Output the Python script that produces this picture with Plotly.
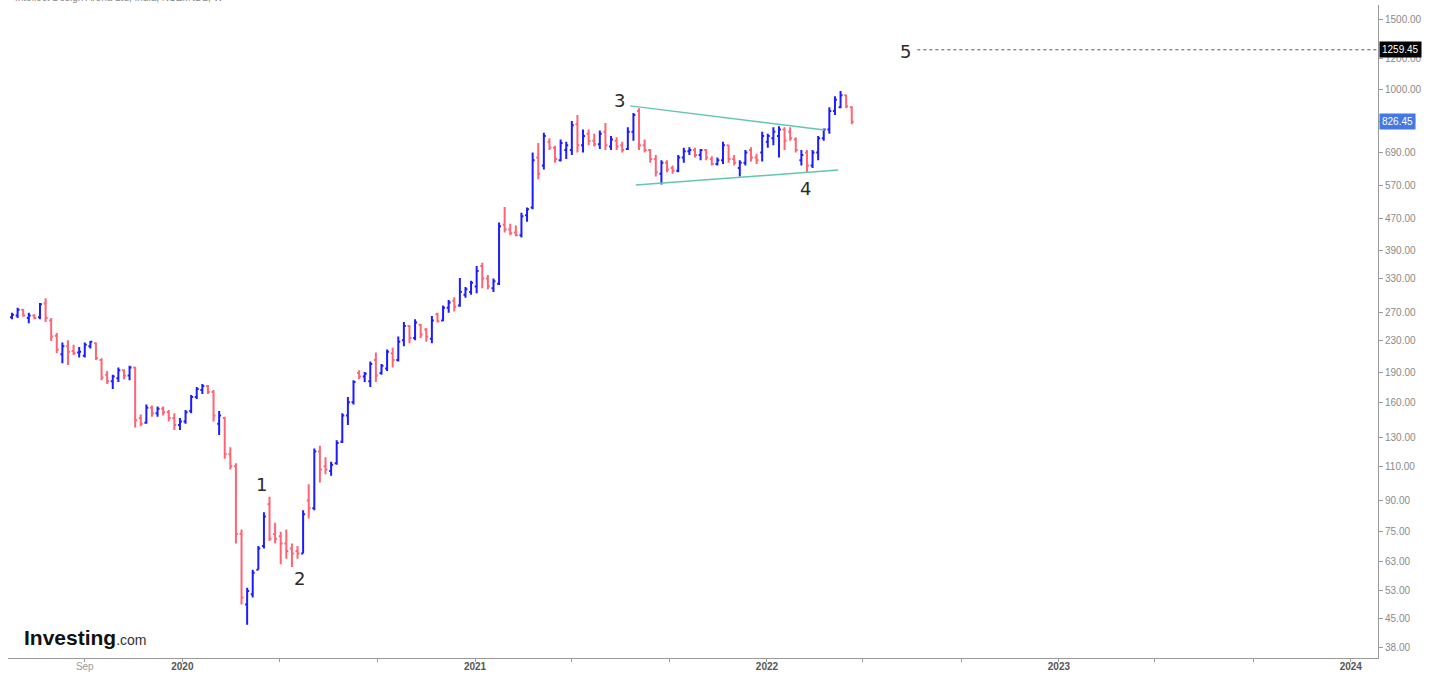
import math
import pandas as pd
import plotly.graph_objects as go

# ---------------- data ----------------
dates = pd.date_range("2019-06-02", periods=151, freq="7D")

opens = [263, 266, 275, 262, 266, 263, 285, 258, 236, 212,
         222, 216, 214, 210, 222, 226, 205, 188, 181, 184,
         193, 187, 196, 146, 142, 155, 150, 154, 151, 146,
         140, 143, 152, 165, 172, 176, 170, 141, 146, 118,
         110, 74, 49, 52, 60, 69, 88, 74, 73, 70,
         68, 67, 66, 90, 86, 120, 110, 107, 112, 127,
         148, 160, 190, 186, 181, 205, 190, 195, 213, 205,
         230, 250, 233, 252, 245, 232, 268, 258, 278, 290,
         282, 300, 305, 315, 355, 330, 312, 320, 452, 440,
         432, 425, 478, 500, 670, 640, 735, 710, 660, 700,
         700, 815, 720, 770, 740, 725, 780, 715, 740, 720,
         705, 780, 880, 720, 700, 665, 610, 650, 630, 620,
         670, 695, 700, 680, 700, 665, 645, 660, 720, 665,
         630, 650, 700, 670, 690, 735, 750, 760, 790, 780,
         745, 660, 690, 640, 690, 750, 790, 880, 900, 965,
         900]
highs = [270, 278, 276, 270, 268, 286, 294, 262, 240, 227,
         230, 224, 221, 227, 229, 227, 207, 192, 188, 196,
         194, 198, 197, 149, 158, 157, 156, 156, 153, 150,
         146, 153, 167, 175, 178, 177, 172, 152, 147, 123,
         112, 76, 54, 60, 69, 84, 92, 79, 75, 76,
         70, 69, 85, 99, 122, 124, 116, 113, 128, 150,
         165, 182, 193, 191, 203, 214, 200, 218, 220, 235,
         256, 251, 260, 253, 247, 265, 270, 282, 291, 296,
         331, 314, 326, 355, 362, 337, 330, 458, 502, 455,
         450, 485, 500, 690, 730, 775, 750, 718, 745, 735,
         830, 860, 790, 790, 770, 785, 820, 760, 755, 735,
         800, 870, 895, 745, 705, 680, 660, 660, 640, 680,
         710, 712, 710, 705, 705, 675, 670, 735, 722, 680,
         660, 700, 712, 685, 780, 770, 800, 805, 800, 800,
         755, 700, 700, 700, 760, 795, 900, 960, 990, 968,
         905]
lows = [260, 262, 264, 254, 260, 260, 256, 229, 213, 201,
        199, 211, 208, 208, 219, 205, 182, 178, 173, 180,
        183, 182, 138, 139, 141, 147, 147, 148, 143, 136,
        136, 141, 150, 163, 168, 168, 143, 132, 115, 108,
        70, 49, 43.5, 51, 60, 68, 71, 70, 62, 64,
        61, 64, 66, 81, 85, 100, 105, 104, 111, 126,
        140, 158, 183, 180, 175, 180, 188, 192, 196, 203,
        222, 226, 230, 233, 228, 226, 255, 257, 270, 272,
        280, 295, 300, 303, 312, 310, 305, 318, 432, 425,
        423, 420, 460, 495, 590, 625, 700, 650, 655, 665,
        680, 690, 690, 720, 715, 705, 700, 700, 700, 690,
        700, 740, 700, 690, 650, 600, 572, 615, 610, 615,
        650, 680, 670, 660, 660, 640, 640, 645, 650, 640,
        600, 640, 655, 645, 655, 710, 720, 670, 700, 740,
        690, 640, 615, 630, 660, 740, 770, 860, 895, 895,
        815]
closes = [267, 275, 266, 266, 262, 284, 262, 235, 218, 222,
          215, 213, 215, 224, 228, 207, 185, 181, 186, 193,
          187, 196, 144, 141, 155, 150, 154, 151, 146, 140,
          143, 151, 165, 173, 176, 170, 148, 148, 118, 110,
          74, 51, 53, 59, 68, 82, 72, 72, 70, 67,
          66, 66, 83, 86, 120, 108, 108, 111, 126, 148,
          160, 180, 186, 189, 200, 187, 198, 215, 205, 228,
          250, 233, 255, 238, 235, 258, 257, 278, 287, 280,
          305, 310, 322, 345, 330, 315, 325, 448, 440, 430,
          425, 475, 495, 660, 610, 760, 710, 665, 730, 720,
          810, 720, 760, 740, 725, 770, 720, 745, 715, 700,
          780, 860, 720, 700, 665, 615, 650, 625, 620, 670,
          695, 700, 680, 700, 670, 645, 660, 720, 665, 650,
          650, 690, 670, 660, 760, 760, 780, 790, 740, 750,
          700, 680, 640, 690, 750, 790, 880, 940, 965, 905,
          826.45]

upper_dates = ["2021-07-14", "2022-03-14"]
upper_prices = [907, 788]
lower_dates = ["2021-07-21", "2022-03-31"]
lower_prices = [571, 623]

wave_labels = ["1", "2", "3", "4", "5"]
wave_dates = ["2020-04-09", "2020-05-27", "2021-07-01", "2022-02-18", "2022-06-23"]
wave_prices = [99, 57, 935, 558, 1245]

target_price = 1259.45
target_dates = ["2022-07-08", "2024-02-04"]
last_price = 826.45

y_ticks = [38, 45, 53, 63, 75, 90, 110, 130, 160, 190, 230, 270, 330,
           390, 470, 570, 690, 830, 1000, 1200, 1500]
x_tick_dates = ["2019-09-01", "2020-01-01", "2020-05-01", "2020-09-01",
                "2021-01-01", "2021-05-01", "2021-09-01", "2022-01-01",
                "2022-05-01", "2022-09-01", "2023-01-01", "2023-05-01",
                "2023-09-01", "2024-01-01"]
x_tick_text = ["Sep", "2020", "", "", "2021", "", "", "2022", "", "", "2023",
               "", "", "2024"]

# ---------------- figure ----------------
BLUE = "#1c1cff"
RED = "#ff6474"
TEAL = "#63c6b1"

fig = go.Figure()
fig.add_trace(go.Ohlc(
    x=dates, open=opens, high=highs, low=lows, close=closes,
    increasing=dict(line=dict(color=BLUE, width=2)),
    decreasing=dict(line=dict(color=RED, width=2)),
    tickwidth=0.35, hoverinfo="skip", showlegend=False))

for xs, ys in [(upper_dates, upper_prices), (lower_dates, lower_prices)]:
    fig.add_trace(go.Scatter(x=xs, y=ys, mode="lines",
                             line=dict(color=TEAL, width=1.5),
                             hoverinfo="skip", showlegend=False))

fig.add_trace(go.Scatter(x=target_dates, y=[target_price, target_price],
                         mode="lines", line=dict(color="#555555", width=1, dash="3px,3px"),
                         hoverinfo="skip", showlegend=False))

ticktext_html = []
for t in x_tick_text:
    if t == "Sep":
        ticktext_html.append('<span style="color:#9a9a9a">Sep</span>')
    elif t:
        ticktext_html.append("<b>" + t + "</b>")
    else:
        ticktext_html.append("")

annotations = []
for lab, d, p in zip(wave_labels, wave_dates, wave_prices):
    annotations.append(dict(x=d, y=math.log10(p), xref="x", yref="y", text=lab,
                            showarrow=False, font=dict(size=18, color="#2b2b2b",
                                                       family="DejaVu Sans")))

annotations.append(dict(xref="paper", yref="y", x=1, y=math.log10(target_price),
                        xanchor="left", xshift=1, text="%.2f" % target_price,
                        showarrow=False, bgcolor="#000000", borderpad=2,
                        font=dict(size=10, color="white", family="Liberation Sans")))
annotations.append(dict(xref="paper", yref="y", x=1, y=math.log10(last_price),
                        xanchor="left", xshift=1, text="%.2f" % last_price,
                        showarrow=False, bgcolor="#4479e3", borderpad=2,
                        font=dict(size=10, color="white", family="Liberation Sans")))
annotations.append(dict(xref="paper", yref="paper", x=0.004, y=1, yanchor="bottom",
                        xanchor="left", yshift=0,
                        text="Intellect Design Arena Ltd, India, NSE:INDL, W",
                        showarrow=False,
                        font=dict(size=10, color="#8a8a8a", family="Liberation Sans")))
annotations.append(dict(xref="paper", yref="paper", x=0.0105, y=0.032, xanchor="left",
                        yanchor="middle",
                        text='<b>Investing</b><span style="font-size:14px;color:#333">.com</span>',
                        showarrow=False,
                        font=dict(size=21, color="#111111", family="Liberation Sans")))

fig.update_layout(
    width=1440, height=675,
    margin=dict(l=8, r=62, t=5, b=17, autoexpand=False),
    paper_bgcolor="white", plot_bgcolor="white",
    showlegend=False,
    annotations=annotations,
    xaxis=dict(type="date", range=["2019-05-28", "2024-02-04"],
               rangeslider=dict(visible=False), automargin=False,
               showgrid=False, zeroline=False,
               showline=True, linecolor="#9a9a9a", linewidth=1,
               ticks="outside", ticklen=3, tickcolor="#9a9a9a",
               ticklabelstandoff=-4,
               tickvals=x_tick_dates, ticktext=ticktext_html,
               tickfont=dict(size=10, color="#555555", family="Liberation Sans")),
    yaxis=dict(type="log", side="right", automargin=False,
               range=[math.log10(35.8), math.log10(1637)],
               showgrid=False, zeroline=False,
               showline=True, linecolor="#9a9a9a", linewidth=1,
               ticks="outside", ticklen=4, tickcolor="#9a9a9a",
               tickvals=y_ticks, ticktext=["%.2f" % v for v in y_ticks],
               tickfont=dict(size=10, color="#8a8a8a", family="Liberation Sans")),
)

fig.write_html("out.html", config={"displayModeBar": False},
               post_script="document.body.style.margin='0';document.body.style.overflow='hidden';")
